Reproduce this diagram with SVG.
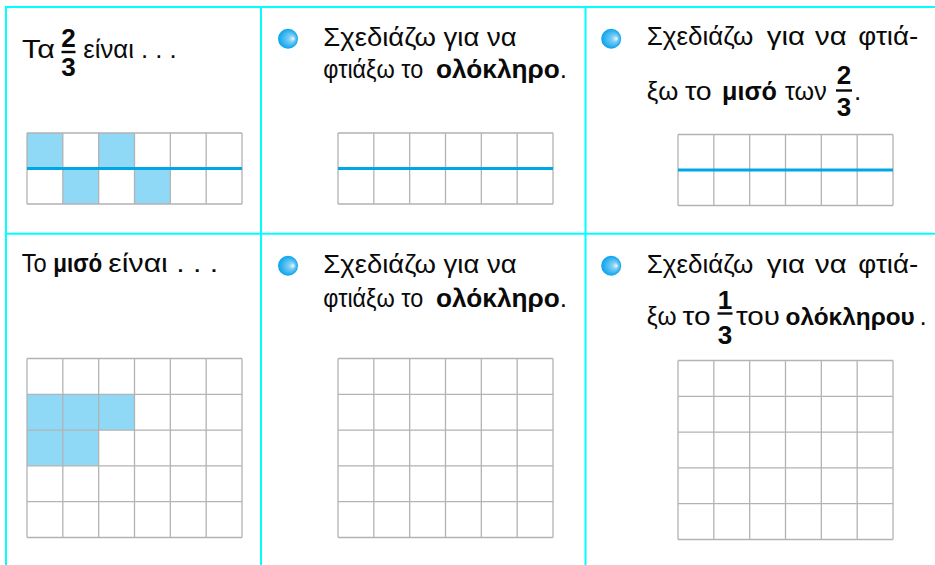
<svg xmlns="http://www.w3.org/2000/svg" xmlns:xlink="http://www.w3.org/1999/xlink" width="935" height="565" viewBox="0 0 935 565">
<style>
.t{font-family:"Liberation Sans",Arial,sans-serif;font-size:26px;fill:#0A0A0A}
.b{font-weight:bold}
.d{font-family:"Liberation Sans",Arial,sans-serif;font-size:26px;font-weight:bold;fill:#0A0A0A;text-anchor:middle}
.frame{stroke:#00FFFF;stroke-width:2;fill:none}
.grid{stroke:#B3B3B3;stroke-width:1.3;fill:none}
.half{stroke:#00A6E6;stroke-width:3}
.shade{fill:#8FD8F6}
.fl{stroke:#0A0A0A;stroke-width:2.4}
</style>
<defs>
<radialGradient id="bul" cx="0.5" cy="0.5" r="0.5" fx="0.78" fy="0.5">
<stop offset="0" stop-color="#F2FAFE"/>
<stop offset="0.3" stop-color="#7FCFF6"/>
<stop offset="1" stop-color="#08A2EC"/>
</radialGradient>
<path id="g2" class="grid" d="M0 0H215M0 35.5H215M0 71H215M0 0V71M35.83 0V71M71.67 0V71M107.5 0V71M143.33 0V71M179.17 0V71M215 0V71"/>
<path id="g5" class="grid" d="M0 0H215M0 35.8H215M0 71.6H215M0 107.4H215M0 143.2H215M0 179H215M0 0V179M35.83 0V179M71.67 0V179M107.5 0V179M143.33 0V179M179.17 0V179M215 0V179"/>
<circle id="dot" r="10" fill="url(#bul)"/>
</defs>
<rect width="935" height="565" fill="#FFFFFF"/>
<g id="frame">
<path class="frame" d="M5 7H935M5 233.7H935M6 6V565M261 6V565M585.5 6V565"/>
</g>
<g id="panel1">
<text class="t" x="22" y="58" textLength="33" lengthAdjust="spacingAndGlyphs">Τα</text>
<text class="d" x="68.5" y="47">2</text>
<line class="fl" x1="61.5" y1="52" x2="75.5" y2="52"/>
<text class="d" x="68.5" y="75.5">3</text>
<text class="t" x="83.3" y="58" textLength="93.4" lengthAdjust="spacingAndGlyphs">είναι . . .</text>
<g transform="translate(27 133)">
<rect class="shade" x="0" y="0" width="35.83" height="35.5"/>
<rect class="shade" x="71.67" y="0" width="35.83" height="35.5"/>
<rect class="shade" x="35.83" y="35.5" width="35.83" height="35.5"/>
<rect class="shade" x="107.5" y="35.5" width="35.83" height="35.5"/>
<use xlink:href="#g2"/>
<line class="half" x1="0" y1="35.5" x2="215" y2="35.5"/>
</g>
</g>
<g id="panel2">
<use xlink:href="#dot" x="288" y="38.7"/>
<text class="t" x="323.3" y="45.7" textLength="193.3" lengthAdjust="spacingAndGlyphs">Σχεδιάζω για να</text>
<text class="t" x="323.3" y="77.5" textLength="100" lengthAdjust="spacingAndGlyphs">φτιάξω το</text>
<text class="t" x="436" y="77.5" textLength="131" lengthAdjust="spacingAndGlyphs"><tspan class="b">ολόκληρο</tspan>.</text>
<g transform="translate(338 133)">
<use xlink:href="#g2"/>
<line class="half" x1="0" y1="35.5" x2="215" y2="35.5"/>
</g>
</g>
<g id="panel3">
<use xlink:href="#dot" x="611.2" y="38.7"/>
<text class="t" x="646.7" y="45.3" textLength="106.6" lengthAdjust="spacingAndGlyphs">Σχεδιάζω</text>
<text class="t" x="766.7" y="45.3" textLength="38.3" lengthAdjust="spacingAndGlyphs">για</text>
<text class="t" x="815" y="45.3" textLength="31.7" lengthAdjust="spacingAndGlyphs">να</text>
<text class="t" x="858.3" y="45.3" textLength="60" lengthAdjust="spacingAndGlyphs">φτιά-</text>
<text class="t" x="646.7" y="100" textLength="31.6" lengthAdjust="spacingAndGlyphs">ξω</text>
<text class="t" x="685" y="100" textLength="26.7" lengthAdjust="spacingAndGlyphs">το</text>
<text class="t b" x="722" y="100" textLength="55" lengthAdjust="spacingAndGlyphs">μισό</text>
<text class="t" x="785" y="100" textLength="41.7" lengthAdjust="spacingAndGlyphs">των</text>
<text class="d" x="844" y="84">2</text>
<line class="fl" x1="836" y1="90.5" x2="852" y2="90.5"/>
<text class="d" x="844" y="115.5">3</text>
<text class="t" x="854" y="100">.</text>
<g transform="translate(678 134.5)">
<use xlink:href="#g2"/>
<line class="half" x1="0" y1="35.5" x2="215" y2="35.5"/>
</g>
</g>
<g id="panel4">
<text class="t" x="21.7" y="271.7" textLength="25" lengthAdjust="spacingAndGlyphs">Το</text>
<text class="t b" x="53.3" y="271.7" textLength="49" lengthAdjust="spacingAndGlyphs">μισό</text>
<text class="t" x="108.3" y="271.7" textLength="110" lengthAdjust="spacingAndGlyphs">είναι . . .</text>
<g transform="translate(27 358.5)">
<rect class="shade" x="0" y="35.8" width="107.5" height="35.8"/>
<rect class="shade" x="0" y="71.6" width="71.67" height="35.8"/>
<use xlink:href="#g5"/>
</g>
</g>
<g id="panel5">
<use xlink:href="#dot" x="288" y="265.8"/>
<text class="t" x="323.3" y="273.3" textLength="193.3" lengthAdjust="spacingAndGlyphs">Σχεδιάζω για να</text>
<text class="t" x="323.3" y="306.8" textLength="100" lengthAdjust="spacingAndGlyphs">φτιάξω το</text>
<text class="t" x="436" y="306.8" textLength="131" lengthAdjust="spacingAndGlyphs"><tspan class="b">ολόκληρο</tspan>.</text>
<g transform="translate(338 358.5)">
<use xlink:href="#g5"/>
</g>
</g>
<g id="panel6">
<use xlink:href="#dot" x="611.2" y="265.8"/>
<text class="t" x="646.7" y="273.3" textLength="106.6" lengthAdjust="spacingAndGlyphs">Σχεδιάζω</text>
<text class="t" x="766.7" y="273.3" textLength="38.3" lengthAdjust="spacingAndGlyphs">για</text>
<text class="t" x="815" y="273.3" textLength="31.7" lengthAdjust="spacingAndGlyphs">να</text>
<text class="t" x="858.3" y="273.3" textLength="60" lengthAdjust="spacingAndGlyphs">φτιά-</text>
<text class="t" x="646.7" y="325" textLength="30" lengthAdjust="spacingAndGlyphs">ξω</text>
<text class="t" x="682.5" y="325" textLength="28" lengthAdjust="spacingAndGlyphs">το</text>
<text class="d" x="725" y="308.5">1</text>
<line class="fl" x1="717.5" y1="313.5" x2="732.5" y2="313.5"/>
<text class="d" x="725" y="343.5">3</text>
<text class="t" x="736" y="325" textLength="44" lengthAdjust="spacingAndGlyphs">του</text>
<text class="t b" x="785.5" y="325" style="font-size:24.4px">ολόκληρου</text>
<text class="t" x="919.5" y="325">.</text>
<g transform="translate(678 360.5)">
<use xlink:href="#g5"/>
</g>
</g>
</svg>
